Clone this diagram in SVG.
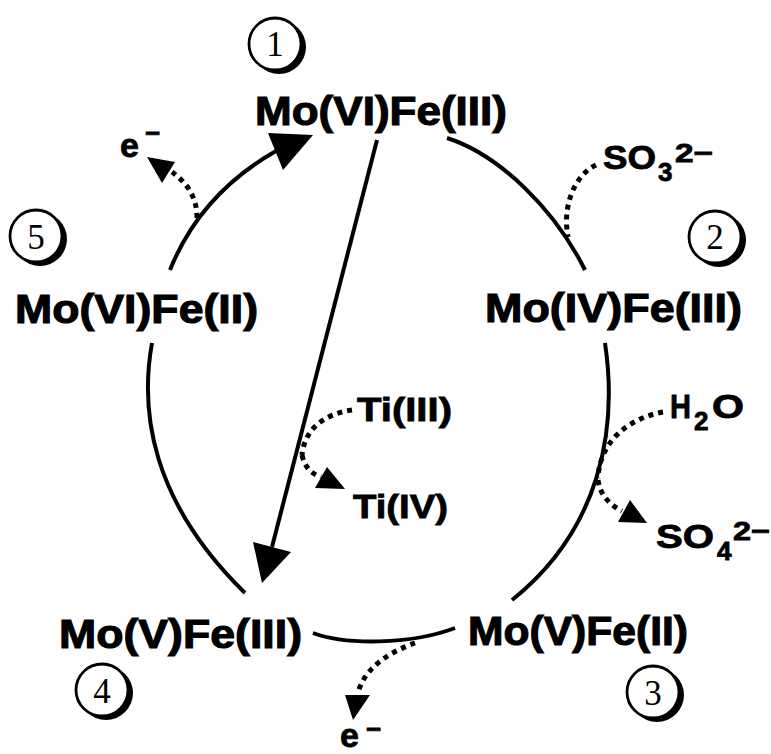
<svg xmlns="http://www.w3.org/2000/svg" width="771" height="754" viewBox="0 0 771 754">
<style>
.t{font-family:"Liberation Sans",Arial,sans-serif;font-weight:bold;fill:#000;stroke:#000;stroke-width:0.8}
.big{font-size:40px;stroke-width:1.1}
.sm{font-size:34px}
.sub{font-size:26px}
.num{font-family:"Liberation Serif","Times New Roman",serif;font-size:35px;text-anchor:middle;fill:#000}
.arc{fill:none;stroke:#000;stroke-width:4}
.dot{fill:none;stroke:#000;stroke-width:5;stroke-dasharray:5 5}
.head{fill:#000}
.ring{fill:#fff;stroke:#000;stroke-width:2.8}
.shadow{fill:#000}
</style>
<rect width="771" height="754" fill="#fff"/>
<g id="connectors">
  <path class="arc" d="M170,270 C190,220 225,180 276,151"/>
  <polygon class="head" points="268,133 313,135 283,170"/>
  <path class="arc" d="M447,138 C500,155 555,210 585,270"/>
  <path class="arc" d="M605,343 C618,430 600,530 512,600"/>
  <path class="arc" d="M313,633 C345,645 410,645 455,628"/>
  <path class="arc" d="M152,343 C140,410 150,500 245,593"/>
  <path class="arc" d="M377,140 L272,547"/>
  <polygon class="head" points="253,542 291,552 262,583"/>
  <path class="dot" d="M197,218 C197,200 190,185 172,172"/>
  <polygon class="head" points="147,157 175,162 162,183"/>
  <path class="dot" d="M596,165 C575,175 562,205 568,237"/>
  <path class="dot" d="M663,412 C630,418 600,440 598,478"/>
  <path class="dot" d="M598,480 C600,495 610,505 622,511"/>
  <polygon class="head" points="647,523 630,500 618,522"/>
  <path class="dot" d="M352,410 C330,413 305,425 302,455"/>
  <path class="dot" d="M302,455 C305,468 312,474 321,477"/>
  <polygon class="head" points="345,489 327,467 315,488"/>
  <path class="dot" d="M415,643 C395,650 365,665 358,693"/>
  <polygon class="head" points="353,720 345,695 370,695"/>
</g>
<g id="n1">
  <circle class="shadow" cx="279" cy="47" r="27"/>
  <circle class="ring" cx="275" cy="44" r="26"/>
  <text class="num" x="275" y="56">1</text>
  <text class="t big" x="255" y="125" textLength="252" lengthAdjust="spacingAndGlyphs">Mo(VI)Fe(III)</text>
</g>
<g id="n2">
  <circle class="shadow" cx="719" cy="240" r="27"/>
  <circle class="ring" cx="715" cy="237" r="26"/>
  <text class="num" x="715" y="249">2</text>
  <text class="t big" x="485" y="322" textLength="257" lengthAdjust="spacingAndGlyphs">Mo(IV)Fe(III)</text>
</g>
<g id="n3">
  <circle class="shadow" cx="657" cy="695" r="27"/>
  <circle class="ring" cx="653" cy="692" r="26"/>
  <text class="num" x="653" y="705">3</text>
  <text class="t big" x="468" y="645" textLength="220" lengthAdjust="spacingAndGlyphs">Mo(V)Fe(II)</text>
</g>
<g id="n4">
  <circle class="shadow" cx="106" cy="693" r="27"/>
  <circle class="ring" cx="102" cy="690" r="26"/>
  <text class="num" x="102" y="703">4</text>
  <text class="t big" x="59" y="648" textLength="243" lengthAdjust="spacingAndGlyphs">Mo(V)Fe(III)</text>
</g>
<g id="n5">
  <circle class="shadow" cx="40" cy="239" r="27"/>
  <circle class="ring" cx="36" cy="236" r="26"/>
  <text class="num" x="36" y="249">5</text>
  <text class="t big" x="15" y="323" textLength="243" lengthAdjust="spacingAndGlyphs">Mo(VI)Fe(II)</text>
</g>
<g id="reagents">
  <text class="t sm" x="120" y="157">e</text>
  <text class="t sub" x="145" y="142">−</text>
  <text class="t sm" x="603" y="169" textLength="53" lengthAdjust="spacingAndGlyphs">SO</text>
  <text class="t sub" x="658" y="181">3</text>
  <text class="t sub" x="675" y="162" textLength="38" lengthAdjust="spacingAndGlyphs">2−</text>
  <text class="t sm" x="670" y="418" textLength="21" lengthAdjust="spacingAndGlyphs">H</text>
  <text class="t sub" x="694" y="430">2</text>
  <text class="t sm" x="712" y="418" textLength="32" lengthAdjust="spacingAndGlyphs">O</text>
  <text class="t sm" x="656" y="548" textLength="58" lengthAdjust="spacingAndGlyphs">SO</text>
  <text class="t sub" x="717" y="560">4</text>
  <text class="t sub" x="733" y="540" textLength="37" lengthAdjust="spacingAndGlyphs">2−</text>
  <text class="t sm" x="357" y="421" textLength="95" lengthAdjust="spacingAndGlyphs">Ti(III)</text>
  <text class="t sm" x="353" y="518" textLength="95" lengthAdjust="spacingAndGlyphs">Ti(IV)</text>
  <text class="t sm" x="340" y="747">e</text>
  <text class="t sub" x="366" y="738">−</text>
</g>
</svg>
